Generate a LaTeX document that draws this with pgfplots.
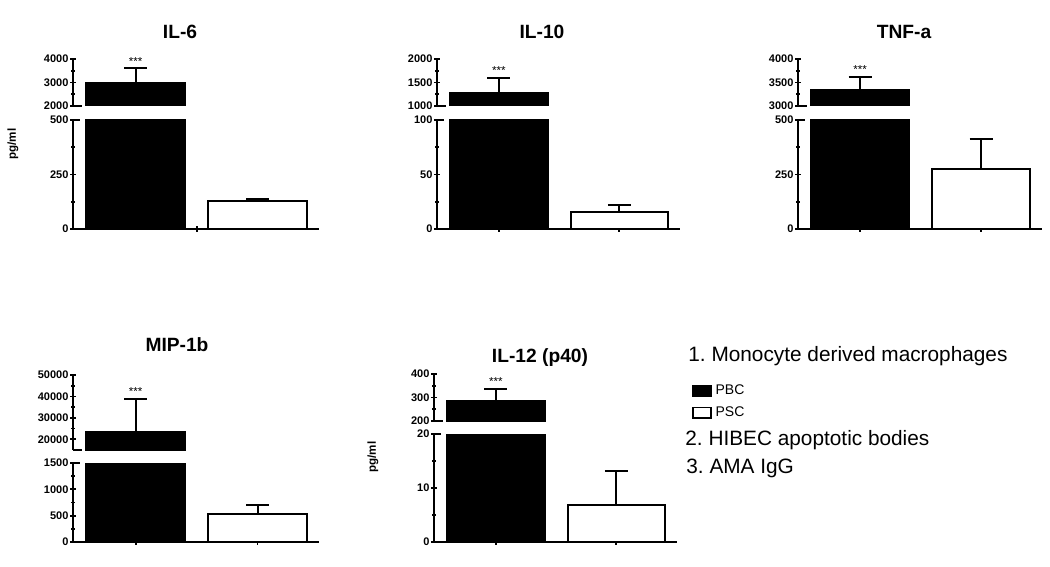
\documentclass[border=0pt]{standalone}
\usepackage{fontspec}
\setmainfont{Liberation Sans}
\usepackage{pgfplots}
\pgfplotsset{compat=1.18}
\frenchspacing

\newcommand\tickf{\fontsize{5.5}{5.5}\selectfont\bfseries}

\pgfplotsset{
  base/.style={scale only axis, xmin=0.485, xmax=2.505, clip mode=individual,
    every tick/.style={black, line width=0.9pt},
    tick align=outside, major tick length=2.6pt, minor tick length=1.7pt,
    tick label style={font=\tickf},
    yticklabel style={inner sep=0.8pt},
    scaled y ticks=false,
    /pgf/number format/assume math mode=true,
  },
  bot/.style={base, axis x line=bottom, axis y line=left, xtick={1,2}, xticklabels={}, ymin=0, minor y tick num=1,
    axis line style={-, line width=1pt, black}, x axis line style={-}, y axis line style={-}},
  topax/.style={base, axis x line=none, axis y line=left, xtick=\empty, minor y tick num=1,
    axis line style={-, line width=1pt, black}, y axis line style={-}},
  pbc/.style={ybar, bar width=0.81, bar shift=0pt, fill=black, draw=black, line width=1pt},
  psc/.style={ybar, bar width=0.81, bar shift=0pt, fill=white, draw=black, line width=1pt},
  eb/.style={error bars/y dir=plus, error bars/y explicit,
    error bars/error mark=|,
    error bars/error bar style={line width=1pt, black},
    error bars/error mark options={black, line width=1pt, mark size=5.75pt}},
}
\tikzset{star/.style={anchor=south, inner sep=0pt, yshift=1.5pt, font=\fontsize{5.8}{5.8}\selectfont}}

\begin{document}
\begin{tikzpicture}
\path[use as bounding box] (0pt,0pt) rectangle (525pt,-283.5pt);

% ---------------- IL-6 ----------------
\begin{axis}[bot, at={(36.5pt,-114.5pt)}, anchor=south west, width=123pt, height=54.5pt,
  ymax=500, ytick={0,250,500}, yticklabels={0,250,500}, xtick={1.5}]
\addplot[pbc] coordinates {(1,2990)};
\addplot[psc, eb] coordinates {(2,128) +- (0,9)};
\draw[line width=1pt] (rel axis cs:0,1) -- ++(3.5pt,0pt);
\end{axis}
\begin{axis}[topax, at={(36.5pt,-53pt)}, anchor=south west, width=123pt, height=23.5pt,
  ymin=2000, ymax=4000, ytick={2000,3000,4000}, yticklabels={2000,3000,4000}]
\addplot[pbc, eb] coordinates {(1,2990) +- (0,610)};
\node[star] at (axis cs:1,3600) {***};
\draw[line width=1pt] (rel axis cs:0,0) -- ++(4.5pt,0pt);
\end{axis}

% ---------------- IL-10 ----------------
\begin{axis}[bot, at={(218.5pt,-114.5pt)}, anchor=south west, width=121.5pt, height=54.5pt,
  ymax=100, ytick={0,50,100}, yticklabels={0,50,100}]
\addplot[pbc] coordinates {(1,1270)};
\addplot[psc, eb] coordinates {(2,15.5) +- (0,6.3)};
\draw[line width=1pt] (rel axis cs:0,1) -- ++(3.5pt,0pt);
\end{axis}
\begin{axis}[topax, at={(218.5pt,-53pt)}, anchor=south west, width=121.5pt, height=23.5pt,
  ymin=1000, ymax=2000, ytick={1000,1500,2000}, yticklabels={1000,1500,2000}]
\addplot[pbc, eb] coordinates {(1,1270) +- (0,330)};
\node[star] at (axis cs:1,1600) {***};
\draw[line width=1pt] (rel axis cs:0,0) -- ++(4.5pt,0pt);
\end{axis}

% ---------------- TNF-a ----------------
\begin{axis}[bot, at={(399pt,-114.5pt)}, anchor=south west, width=122pt, height=54.5pt,
  ymax=500, ytick={0,250,500}, yticklabels={0,250,500}]
\addplot[pbc] coordinates {(1,3340)};
\addplot[psc, eb] coordinates {(2,277) +- (0,137)};
\draw[line width=1pt] (rel axis cs:0,1) -- ++(3.5pt,0pt);
\end{axis}
\begin{axis}[topax, at={(399pt,-53pt)}, anchor=south west, width=122pt, height=23.5pt,
  ymin=3000, ymax=4000, ytick={3000,3500,4000}, yticklabels={3000,3500,4000}]
\addplot[pbc, eb] coordinates {(1,3340) +- (0,285)};
\node[star] at (axis cs:1,3625) {***};
\draw[line width=1pt] (rel axis cs:0,0) -- ++(4.5pt,0pt);
\end{axis}

% ---------------- MIP-1b ----------------
\begin{axis}[bot, at={(36.5pt,-271pt)}, anchor=south west, width=123pt, height=39.5pt,
  ymax=1500, ytick={0,500,1000,1500}, yticklabels={0,500,1000,1500}]
\addplot[pbc] coordinates {(1,23600)};
\addplot[psc, eb] coordinates {(2,532) +- (0,170)};
\draw[line width=1pt] (rel axis cs:0,1) -- ++(3.5pt,0pt);
\end{axis}
\begin{axis}[topax, at={(36.5pt,-225pt)}, anchor=south west, width=123pt, height=37.5pt,
  ymin=15000, ymax=50000, ytick={20000,30000,40000,50000}, yticklabels={20000,30000,40000,50000}]
\addplot[pbc, eb] coordinates {(1,23600) +- (0,15400)};
\node[star] at (axis cs:1,39000) {***};
\draw[line width=1pt] (rel axis cs:0,0) -- ++(4.5pt,0pt);
\end{axis}

% ---------------- IL-12 (p40) ----------------
\begin{axis}[bot, at={(217pt,-271pt)}, anchor=south west, width=121.5pt, height=54pt,
  ymax=20, ytick={0,10,20}, yticklabels={0,10,20},
  legend image code/.code={\draw[#1, line width=0.8pt] (0pt,-2.6pt) rectangle (9pt,2.6pt);},
  legend style={at={(1.06,1.5)}, anchor=north west, draw=none, fill=none, inner sep=0pt,
    font=\fontsize{7}{7}\selectfont, row sep=0.6pt, cells={anchor=west},
    /tikz/every even column/.append style={column sep=4pt}}]
\addlegendimage{black, fill=black}
\addlegendentry{PBC}
\addlegendimage{black, fill=white}
\addlegendentry{PSC}
\addplot[pbc, forget plot] coordinates {(1,287)};
\addplot[psc, eb, forget plot] coordinates {(2,6.9) +- (0,6.2)};
\draw[line width=1pt] (rel axis cs:0,1) -- ++(3.5pt,0pt);
\end{axis}
\begin{axis}[topax, at={(217pt,-210.5pt)}, anchor=south west, width=121.5pt, height=23.5pt,
  ymin=200, ymax=400, ytick={200,300,400}, yticklabels={200,300,400}]
\addplot[pbc, eb] coordinates {(1,287) +- (0,50)};
\node[star] at (axis cs:1,337) {***};
\draw[line width=1pt] (rel axis cs:0,0) -- ++(4.5pt,0pt);
\end{axis}

% ---------------- titles and labels ----------------
\begin{scope}[every node/.style={inner sep=0pt, font=\fontsize{9.6}{9.6}\selectfont\bfseries}]
\node[anchor=base] at (90pt,-19.5pt) {IL-6};
\node[anchor=base] at (271pt,-19.5pt) {IL-10};
\node[anchor=base] at (452pt,-19.5pt) {TNF-a};
\node[anchor=base] at (88.5pt,-175.5pt) {MIP-1b};
\node[anchor=base] at (270pt,-181pt) {IL-12 (p40)};
\end{scope}
\node[rotate=90, inner sep=0pt, font=\fontsize{5.8}{5.8}\selectfont\bfseries] at (6.5pt,-72pt) {pg/ml};
\node[rotate=90, inner sep=0pt, font=\fontsize{5.8}{5.8}\selectfont\bfseries] at (186.5pt,-228.5pt) {pg/ml};

\begin{scope}[every node/.style={inner sep=0pt, anchor=base west, font=\fontsize{10.4}{10.4}\selectfont}]
\node at (344pt,-180.5pt) {1. Monocyte derived macrophages};
\node at (342.5pt,-222.5pt) {2. HIBEC apoptotic bodies};
\node at (343pt,-236.5pt) {3. AMA IgG};
\end{scope}
\end{tikzpicture}
\end{document}
